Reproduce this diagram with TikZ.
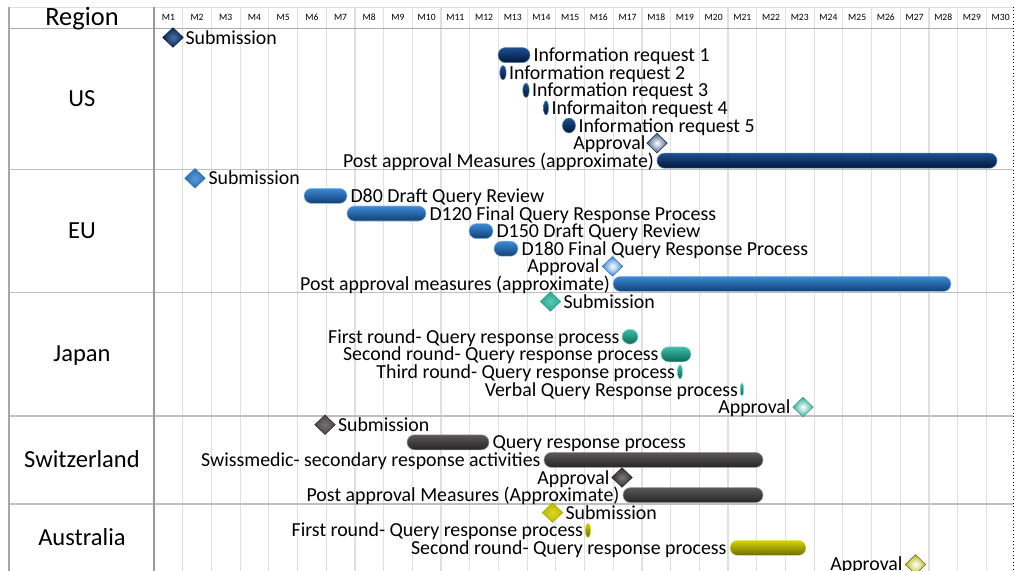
\documentclass[tikz,border=0pt]{standalone}
\usepackage{fontspec}
\setmainfont{Carlito}
\usetikzlibrary{shapes.geometric}

\definecolor{usTop}{HTML}{1D4F91}
\definecolor{usBot}{HTML}{00183A}
\definecolor{euTop}{HTML}{3C8AD8}
\definecolor{euBot}{HTML}{123F73}
\definecolor{jpTop}{HTML}{3DBFA6}
\definecolor{jpBot}{HTML}{0D6658}
\definecolor{chTop}{HTML}{5A5858}
\definecolor{chBot}{HTML}{262424}
\definecolor{auTop}{HTML}{D4D200}
\definecolor{auBot}{HTML}{6E6C00}

\tikzset{every picture/.style={line width=0.75pt},
  task/.style={inner sep=0.75pt, font=\fontsize{14.9}{17}\selectfont},
  region/.style={inner sep=0.75pt, font=\fontsize{18.4}{21}\selectfont},
  month/.style={inner sep=0.75pt, font=\fontsize{7.2}{8}\selectfont},
  gridln/.style={draw=gray!25, line width=0.9pt},
  sepln/.style={draw=gray!50, line width=0.9pt},
  usbar/.style={top color=usTop, bottom color=usBot, draw=usTop!70!white, line width=0.4pt, rounded corners=5.6pt},
  eubar/.style={top color=euTop, bottom color=euBot, draw=euTop!60!white, line width=0.4pt, rounded corners=5.6pt},
  jpbar/.style={top color=jpTop, bottom color=jpBot, draw=jpTop!60!white, line width=0.4pt, rounded corners=5.6pt},
  chbar/.style={top color=chTop, bottom color=chBot, draw=chTop!60!white, line width=0.4pt, rounded corners=5.6pt},
  aubar/.style={top color=auTop, bottom color=auBot, draw=auTop!60!white, line width=0.4pt, rounded corners=5.6pt},
  milestone/.style={diamond, inner sep=0pt, minimum width=15.5pt, minimum height=14.8pt, line width=0.4pt},
  ussub/.style={milestone, inner color=usTop!80!white, outer color=usBot!70!usTop, draw=usBot},
  eusub/.style={milestone, inner color=euTop!85!white, outer color=euTop!60!euBot, draw=euTop!70!euBot},
  jpsub/.style={milestone, inner color=jpTop!85!white, outer color=jpTop!70!jpBot, draw=jpTop!70!jpBot},
  chsub/.style={milestone, inner color=chTop!85!white, outer color=chTop!70!chBot, draw=chBot},
  ausub/.style={milestone, inner color=auTop!85!white, outer color=auTop!75!auBot, draw=auTop!60!auBot},
  usappr/.style={milestone, inner color=white, outer color=usTop!60!gray, draw=usTop!50!black},
  euappr/.style={milestone, inner color=white, outer color=euTop, draw=euTop!80!black},
  jpappr/.style={milestone, inner color=white, outer color=jpTop!80!jpBot, draw=jpTop!70!jpBot},
  chappr/.style={milestone, inner color=chTop!80!white, outer color=chBot!80!chTop, draw=chBot},
  auappr/.style={milestone, inner color=white, outer color=auTop!70!gray, draw=auTop!50!black}
}

\begin{document}
\begin{tikzpicture}[x=0.75pt,y=0.75pt,yscale=-1,xscale=1]
\useasboundingbox (0,0) rectangle (1015,571);

%Grid: month columns
\foreach \k in {1,...,29}
  \draw[gridln] ({154+28.7*\k},7) -- ({154+28.7*\k},571);
\foreach \m in {1,...,30}
  \draw ({154+28.7*(\m-0.5)},20.6) node (m\m) [month, anchor=base] {M\m};

%Grid: table frame
\draw[draw=gray!25] (9,7) -- (1013,7);
\draw[draw=gray!65, line width=0.9pt] (9,28.5) -- (1013,28.5);
\draw[sepln] (9,169.5) -- (1013,169.5);
\draw[sepln] (9,292.7) -- (1013,292.7);
\draw[sepln] (9,415.9) -- (1013,415.9);
\draw[sepln] (9,503.9) -- (1013,503.9);
\draw[draw=gray!70, line width=0.9pt] (9,7) -- (9,571);
\draw[draw=gray!80, line width=0.9pt] (154,7) -- (154,571);
\draw[draw=black!75!blue, line width=0.6pt, dotted] (1013,7) -- (1013,571);

% Text Node
\draw (82,26) node (hdr) [anchor=base, inner sep=0.75pt, font=\fontsize{19.8}{22}\selectfont] {Region};
\draw (82,106.8) node (rUS) [region, anchor=base] {US};
\draw (82,238.8) node (rEU) [region, anchor=base] {EU};
\draw (82,361.8) node (rJP) [region, anchor=base] {Japan};
\draw (82,467.8) node (rCH) [region, anchor=base] {Switzerland};
\draw (82,545.3) node (rAU) [region, anchor=base] {Australia};

%US
\shadedraw[usbar] (498,47.6) rectangle (530,62.6);
\shadedraw[usbar] (503,72.7) ellipse [x radius=2.4pt, y radius=5.3pt];
\shadedraw[usbar] (526,90.3) ellipse [x radius=2.4pt, y radius=5.3pt];
\shadedraw[usbar] (546,107.9) ellipse [x radius=1.9pt, y radius=5.3pt];
\shadedraw[usbar] (569,125.5) ellipse [x radius=4.9pt, y radius=5.6pt];
\shadedraw[usbar] (657,153.2) rectangle (997,168.2);
\node (usSubMk) [ussub] at (173,37.5) {};
\node (usApprMk) [usappr] at (657,143.1) {};
\draw (184,44) node (usSub) [task, anchor=base west] {Submission};
\draw (532,61.6) node (usIR1) [task, anchor=base west] {Information request 1};
\draw (507.5,79.2) node (usIR2) [task, anchor=base west] {Information request 2};
\draw (530.5,96.8) node (usIR3) [task, anchor=base west] {Information request 3};
\draw (550,114.4) node (usIR4) [task, anchor=base west] {Informaiton request 4};
\draw (577,132) node (usIR5) [task, anchor=base west] {Information request 5};
\draw (647,149.6) node (usAppr) [task, anchor=base east] {Approval};
\draw (655.5,167.2) node (usPost) [task, anchor=base east] {Post approval Measures (approximate)};

%EU
\shadedraw[eubar] (304,188.4) rectangle (347,203.4);
\shadedraw[eubar] (347,206) rectangle (426,221);
\shadedraw[eubar] (469,223.6) rectangle (493,238.6);
\shadedraw[eubar] (494,241.2) rectangle (518,256.2);
\shadedraw[eubar] (613,276.4) rectangle (951,291.4);
\node (euSubMk) [eusub] at (195,178.3) {};
\node (euApprMk) [euappr] at (612.5,266.3) {};
\draw (207,184.8) node (euSub) [task, anchor=base west] {Submission};
\draw (349,202.4) node (euD80) [task, anchor=base west] {D80 Draft Query Review};
\draw (428,220) node (euD120) [task, anchor=base west] {D120 Final Query Response Process};
\draw (495,237.6) node (euD150) [task, anchor=base west] {D150 Draft Query Review};
\draw (520,255.2) node (euD180) [task, anchor=base west] {D180 Final Query Response Process};
\draw (601,272.8) node (euAppr) [task, anchor=base east] {Approval};
\draw (611.5,290.4) node (euPost) [task, anchor=base east] {Post approval measures (approximate)};

%Japan
\shadedraw[jpbar] (630,336.7) ellipse [x radius=6pt, y radius=5.6pt];
\shadedraw[jpbar] (661,346.8) rectangle (691,361.8);
\shadedraw[jpbar] (680,371.9) ellipse [x radius=1.9pt, y radius=5.3pt];
\shadedraw[jpbar] (742,389.5) ellipse [x radius=1.3pt, y radius=4.9pt];
\node (jpSubMk) [jpsub] at (550.5,301.5) {};
\node (jpApprMk) [jpappr] at (803,407.1) {};
\draw (562,308) node (jpSub) [task, anchor=base west] {Submission};
\draw (621,343.2) node (jpR1) [task, anchor=base east] {First round- Query response process};
\draw (660,360.8) node (jpR2) [task, anchor=base east] {Second round- Query response process};
\draw (676.5,378.4) node (jpR3) [task, anchor=base east] {Third round- Query response process};
\draw (739.5,396) node (jpVerb) [task, anchor=base east] {Verbal Query Response process};
\draw (792,413.6) node (jpAppr) [task, anchor=base east] {Approval};

%Switzerland
\shadedraw[chbar] (407,434.8) rectangle (489,449.8);
\shadedraw[chbar] (544,452.4) rectangle (763,467.4);
\shadedraw[chbar] (623,487.6) rectangle (763,502.6);
\node (chSubMk) [chsub] at (325,424.7) {};
\node (chApprMk) [chappr] at (622,477.5) {};
\draw (336.5,431.2) node (chSub) [task, anchor=base west] {Submission};
\draw (491,448.8) node (chQR) [task, anchor=base west] {Query response process};
\draw (542,466.4) node (chSec) [task, anchor=base east] {Swissmedic- secondary response activities};
\draw (611,484) node (chAppr) [task, anchor=base east] {Approval};
\draw (621,501.6) node (chPost) [task, anchor=base east] {Post approval Measures (Approximate)};

%Australia
\shadedraw[aubar] (588,530.3) ellipse [x radius=2.1pt, y radius=5.3pt];
\shadedraw[aubar] (730,540.4) rectangle (806,555.4);
\node (auSubMk) [ausub] at (552.5,512.7) {};
\node (auApprMk) [auappr] at (915.5,564.5) {};
\draw (564,519.2) node (auSub) [task, anchor=base west] {Submission};
\draw (584.5,536.8) node (auR1) [task, anchor=base east] {First round- Query response process};
\draw (728,554.4) node (auR2) [task, anchor=base east] {Second round- Query response process};
\draw (904,570.5) node (auAppr) [task, anchor=base east] {Approval};

\end{tikzpicture}
\end{document}
